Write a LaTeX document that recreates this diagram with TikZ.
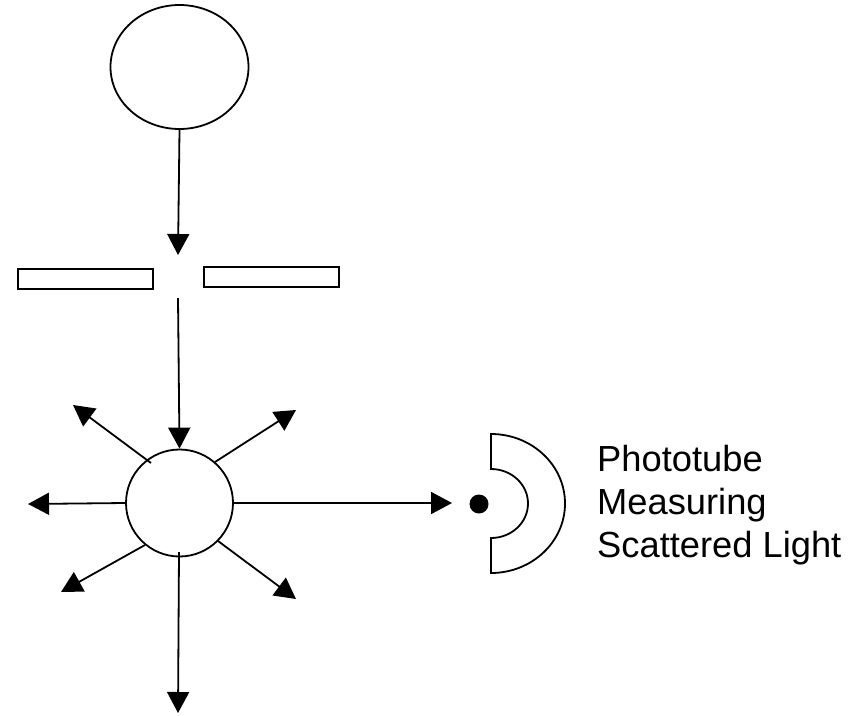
\documentclass[tikz,border=0pt]{standalone}
\usepackage{fontspec}
\setmainfont{Liberation Sans}
\usetikzlibrary{arrows.meta,shapes.geometric}
\begin{document}
\begin{tikzpicture}[x=1pt,y=-1pt,
  ln/.style={line width=1.8pt},
  arr/.style={ln,-{Triangle[length=21pt,width=22pt]}},
  slit/.style={draw,line width=1.8pt,minimum width=135pt,minimum height=20pt,inner sep=0pt},
  lbl/.style={align=left,inner sep=0pt,font=\fontsize{36.3}{43}\selectfont}]
\useasboundingbox (0,0) rectangle (867,715);
% source
\node[ellipse,draw,line width=1.8pt,minimum width=138pt,minimum height=124pt,inner sep=0pt] (src) at (179.5,67) {};
\coordinate (slitin) at (178,255);
\draw[arr] (src.south) -- (slitin);
% slits
\node[slit] (slitL) at (85.5,279) {};
\node[slit] (slitR) at (271.5,277) {};
% beam through slit
\coordinate (beamstart) at (178,298);
% scattering sample
\node[circle,draw,line width=1.8pt,minimum size=107pt,inner sep=0pt] (c) at (179.5,503) {};
\draw[arr] (beamstart) -- (c.north);
% rays
\coordinate (ulS) at (151,463); \coordinate (ulT) at (73,405);
\coordinate (urS) at (215,462); \coordinate (urT) at (296,410);
\coordinate (llS) at (145,545); \coordinate (llT) at (61,592);
\coordinate (lrS) at (218,541); \coordinate (lrT) at (296,599);
\coordinate (dS) at (179,552); \coordinate (dT) at (178,713);
\coordinate (lT) at (28,504);
\coordinate (rT) at (452,503);
\draw[arr] (ulS) -- (ulT);
\draw[arr] (urS) -- (urT);
\draw[arr] (llS) -- (llT);
\draw[arr] (lrS) -- (lrT);
\draw[arr] (dS) -- (dT);
\draw[arr] (c.west) -- (lT);
\draw[arr] (c.east) -- (rT);
% detector
\fill (479,504) circle (9.5pt);
\draw[ln] (491,434) -- (491,469) arc[start angle=-90,end angle=90,x radius=37,y radius=34.5]
  -- (491,573) arc[start angle=90,end angle=-90,x radius=74,y radius=69.5] -- cycle;
\node[lbl,anchor=north west] (label) at (597,445) {Phototube\\Measuring\\Scattered Light};
\end{tikzpicture}
\end{document}
